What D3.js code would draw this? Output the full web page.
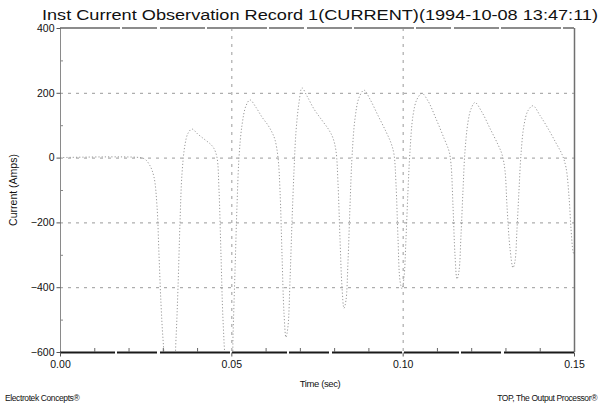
<!DOCTYPE html>
<html>
<head>
<meta charset="utf-8">
<script src="https://cdn.jsdelivr.net/npm/d3@7/dist/d3.min.js"></script>
<style>
  html, body { margin: 0; padding: 0; background: #fff; }
  svg { display: block; }
  text { font-family: "Liberation Sans", Arial, sans-serif; fill: #111; }
</style>
</head>
<body>
<svg id="chart" width="599" height="406"></svg>
<script>
// Sampled instantaneous current record (time in ms, current in A)
const timeMs = [
  0, 23.35, 24.81, 26.26, 27.43, 28.31, 28.89, 29.47, 30.06, 30.93, 32.10, 33.27, 33.85, 34.44, 35.02, 35.60,
  36.48, 37.35, 38.52, 40.27, 42.32, 44.07, 44.94, 45.82, 46.40, 46.98, 47.57, 48.44, 49.32, 50.20,
  50.49, 51.07, 51.65, 52.24, 53.11, 54.28, 55.45, 57.20, 58.95, 60.70, 61.87, 62.74, 63.62, 64.20,
  64.79, 65.37, 65.95, 66.54, 67.12, 67.70, 68.29, 68.87, 69.75, 70.62, 72.08, 74.12, 76.46, 78.50,
  79.67, 80.55, 81.13, 81.71, 82.30, 82.88, 83.46, 84.05, 84.63, 85.21, 86.09, 87.26, 88.72, 90.47,
  92.80, 95.14, 96.60, 97.47, 98.05, 98.64, 99.22, 99.81, 100.39, 100.97, 101.56, 102.14, 103.02,
  104.18, 105.64, 107.39, 109.73, 112.06, 113.52, 114.11, 114.69, 115.27, 115.86, 116.44, 117.02,
  117.61, 118.19, 119.07, 119.94, 121.11, 123.15, 125.49, 127.82, 128.99, 129.86, 130.45, 131.32,
  132.20, 132.78, 133.37, 133.95, 134.53, 135.41, 136.58, 138.04, 140.08, 142.41, 144.75, 146.50,
  147.66, 148.54, 149.13, 149.71, 150.00
];
const currentA = [
  0, 0, -5, -25, -60, -150, -300, -450, -560, -660, -700, -660, -560, -400, -200, -50,
  40, 75, 88, 72, 55, 40, 28, 0, -100, -300, -500, -650, -700, -660,
  -550, -350, -150, 0, 100, 160, 178, 155, 125, 100, 78, 55, 0, -100,
  -300, -480, -555, -520, -380, -200, -40, 80, 170, 215, 190, 150, 115, 85,
  60, 20, -80, -250, -400, -465, -440, -320, -150, 0, 120, 185, 208, 180,
  130, 80, 45, 10, -80, -250, -380, -405, -370, -250, -100, 20, 130,
  180, 198, 175, 120, 60, 20, -20, -150, -300, -375, -350, -240,
  -100, 20, 110, 150, 170, 140, 90, 40, 10, -40, -150, -280,
  -340, -320, -220, -100, 10, 100, 145, 160, 130, 90, 45, 10,
  -30, -120, -220, -290, -300
];

const yTicks = [400, 200, 0, -200, -400, -600];
const yMinorTicks = [300, 100, -100, -300, -500];
const yGrid = [200, 0, -200, -400];
const xTicks = [0, 50, 100, 150];
const xTickLabels = ["0.00", "0.05", "0.10", "0.15"];
const xMinorTicks = [10, 20, 30, 40, 60, 70, 80, 90, 110, 120, 130, 140];
const xGrid = [50, 100];

const titleText = "Inst Current Observation Record 1(CURRENT)(1994-10-08 13:47:11)";
const xTitle = "Time (sec)";
const yTitle = "Current (Amps)";
const footLeft = "Electrotek Concepts\u00AE";
const footRight = "TOP, The Output Processor\u00AE";

const svg = d3.select("#chart");
const plotL = 60, plotR = 574, plotT = 28, plotB = 352;

const x = d3.scaleLinear().domain([0, 150]).range([plotL, plotR]);
const y = d3.scaleLinear().domain([-600, 400]).range([plotB, plotT]);

// dashed grid
const grid = svg.append("g").attr("stroke", "#9a9a9a").attr("stroke-width", 1)
  .attr("stroke-dasharray", "3,5");
grid.selectAll("line.h").data(yGrid).join("line").attr("class", "h")
  .attr("x1", plotL).attr("x2", plotR)
  .attr("y1", d => y(d) + 0.5).attr("y2", d => y(d) + 0.5);
grid.selectAll("line.v").data(xGrid).join("line").attr("class", "v")
  .attr("x1", d => x(d) + 0.5).attr("x2", d => x(d) + 0.5)
  .attr("y1", plotT).attr("y2", plotB);

// clip for the trace
svg.append("clipPath").attr("id", "plotClip").append("rect")
  .attr("x", plotL).attr("y", plotT).attr("width", plotR - plotL).attr("height", plotB - plotT);

const pts = timeMs.map((t, i) => [t, currentA[i]]);
const line = d3.line().x(d => x(d[0])).y(d => y(d[1])).curve(d3.curveCatmullRom.alpha(0.5));
svg.append("path")
  .attr("clip-path", "url(#plotClip)")
  .attr("d", line(pts))
  .attr("fill", "none")
  .attr("stroke", "#9a9a9a")
  .attr("stroke-width", 1)
  .attr("stroke-dasharray", "1.2,2");

// frame
svg.append("line").attr("x1", plotL).attr("x2", plotR).attr("y1", plotT).attr("y2", plotT)
  .attr("stroke", "#8c8c8c").attr("stroke-width", 2).attr("stroke-dasharray", "60,2,35,3,45,2");
svg.append("line").attr("x1", plotR + 0.5).attr("x2", plotR + 0.5).attr("y1", plotT).attr("y2", plotB)
  .attr("stroke", "#707070").attr("stroke-width", 1.5);
svg.append("line").attr("x1", plotL + 0.5).attr("x2", plotL + 0.5).attr("y1", plotT).attr("y2", plotB)
  .attr("stroke", "#8a8a8a").attr("stroke-width", 1);
svg.append("line").attr("x1", plotL).attr("x2", plotR).attr("y1", plotB + 0.5).attr("y2", plotB + 0.5)
  .attr("stroke", "#1a1a1a").attr("stroke-width", 2).attr("stroke-dasharray", "55,2,40,3,70,2");

// y axis ticks
const yAxis = svg.append("g").attr("transform", `translate(${plotL + 0.5},0)`)
  .call(d3.axisLeft(y).tickValues(yTicks).tickSize(4).tickFormat(d3.format("d")));
yAxis.select(".domain").remove();
yAxis.selectAll(".tick line").attr("stroke", "#555");
yAxis.selectAll(".tick text").attr("font-size", 10.5).attr("x", -6)
  .attr("font-family", "'Liberation Sans Narrow', 'Liberation Sans', Arial, sans-serif").attr("fill", "#222");
svg.append("g").selectAll("line").data(yMinorTicks).join("line")
  .attr("x1", plotL).attr("x2", plotL + 3)
  .attr("y1", d => y(d) + 0.5).attr("y2", d => y(d) + 0.5)
  .attr("stroke", "#888");

// x axis ticks
const xAxis = svg.append("g").attr("transform", `translate(0,${plotB + 0.5})`)
  .call(d3.axisBottom(x).tickValues(xTicks).tickSize(4).tickFormat((d, i) => xTickLabels[i]));
xAxis.select(".domain").remove();
xAxis.selectAll(".tick line").attr("stroke", "#555");
xAxis.selectAll(".tick text").attr("font-size", 10.5).attr("y", 8)
  .attr("font-family", "'Liberation Sans Narrow', 'Liberation Sans', Arial, sans-serif").attr("fill", "#222");
svg.append("g").selectAll("line").data(xMinorTicks).join("line")
  .attr("x1", d => x(d) + 0.5).attr("x2", d => x(d) + 0.5)
  .attr("y1", plotB - 4).attr("y2", plotB)
  .attr("stroke", "#666");

// texts
svg.append("text").attr("x", 320).attr("y", 20).attr("text-anchor", "middle")
  .attr("font-size", 15.5).attr("textLength", 556).attr("lengthAdjust", "spacingAndGlyphs")
  .attr("fill", "#1a1a1a")
  .text(titleText);
svg.append("text").attr("x", 320).attr("y", 387).attr("text-anchor", "middle")
  .attr("font-size", 9.5).attr("letter-spacing", -0.4)
  .attr("font-family", "'Liberation Sans Narrow', 'Liberation Sans', Arial, sans-serif")
  .text(xTitle);
svg.append("text").attr("transform", "translate(17,190) rotate(-90)").attr("text-anchor", "middle")
  .attr("font-size", 10.5).attr("fill", "#333")
  .text(yTitle);
svg.append("text").attr("x", 5).attr("y", 401)
  .attr("font-size", 8.5).attr("letter-spacing", -0.4)
  .attr("font-family", "'Liberation Sans Narrow', 'Liberation Sans', Arial, sans-serif")
  .text(footLeft);
svg.append("text").attr("x", 597).attr("y", 401).attr("text-anchor", "end")
  .attr("font-size", 8.5).attr("letter-spacing", -0.4)
  .attr("font-family", "'Liberation Sans Narrow', 'Liberation Sans', Arial, sans-serif")
  .text(footRight);
</script>
</body>
</html>
